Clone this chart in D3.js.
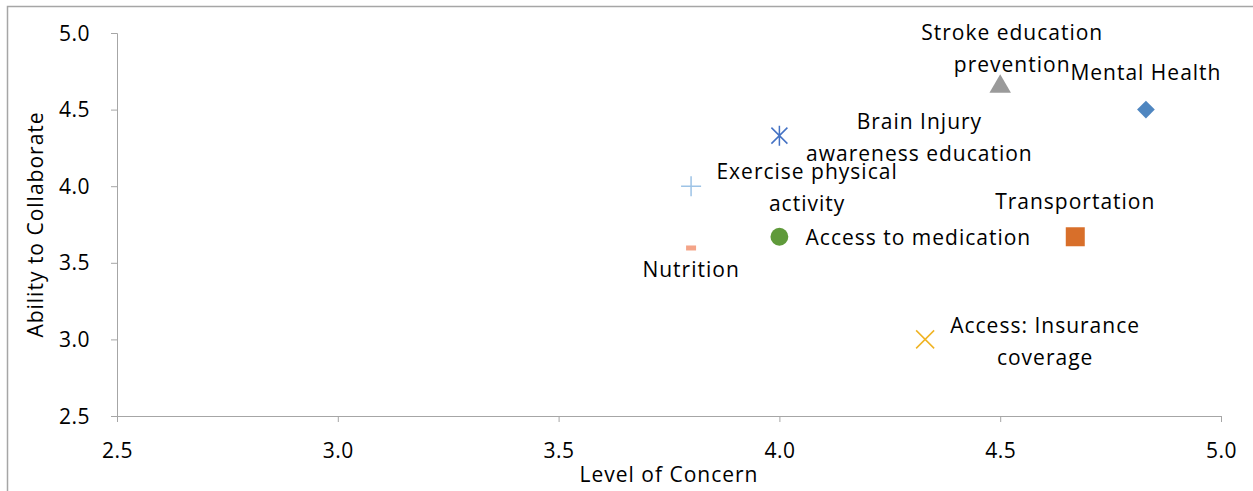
<!DOCTYPE html>
<html>
<head>
<meta charset="utf-8">
<script src="https://cdn.jsdelivr.net/npm/d3@7"></script>
<style>
  body { margin: 0; background: #fff; }
  text { font-family: "Open Sans", sans-serif; fill: #000; letter-spacing: 1px; }
  .axis path, .axis line { stroke: #a6a6a6; }
  .axis text { font-size: 21px; letter-spacing: 0.5px; }
</style>
</head>
<body>
<svg id="chart"></svg>
<script>
// data
const names = ["Mental Health", "Stroke education prevention", "Brain Injury awareness education",
  "Exercise physical activity", "Nutrition", "Access to medication", "Transportation",
  "Access: Insurance coverage"];
const concern = [4.83, 4.5, 4.0, 3.8, 3.8, 4.0, 4.67, 4.33];
const collaborate = [4.5, 4.65, 4.33, 4.0, 3.6, 3.67, 3.67, 3.0];
const labelLines = [["Mental Health"], ["Stroke education", "prevention"], ["Brain Injury", "awareness education"],
  ["Exercise physical", "activity"], ["Nutrition"], ["Access to medication"], ["Transportation"],
  ["Access: Insurance", "coverage"]];
const xTicks = [2.5, 3.0, 3.5, 4.0, 4.5, 5.0];
const yTicks = [2.5, 3.0, 3.5, 4.0, 4.5, 5.0];

// marker look and label placement (pixel offsets from the point)
const markers = ["diamond", "triangle", "asterisk", "plus", "dash", "circle", "square", "cross"];
const colors = ["#4f86c0", "#9a9a9a", "#4472c4", "#9dc3e6", "#f4a488", "#5f9a3a", "#d86f2a", "#f0b323"];
const labelDx = [0, 12, 140, 116, 0, 139, 0, 120];
const labelDy = [-30, -47, -7, -7, 30, 8, -28, -6];

const w = 1253, h = 491;
const svg = d3.select('#chart').attr('width', w).attr('height', h);

const margin = {top: 33, right: 32, bottom: 75, left: 117};

const xScale = d3.scaleLinear().domain([2.5, 5.0]).range([margin.left, w - margin.right]);
const yScale = d3.scaleLinear().domain([2.5, 5.0]).range([h - margin.bottom, margin.top]);

// chart frame (left + top edges visible)
svg.append('path')
  .attr('d', `M7.5,${h} V6.5 H${w}`)
  .attr('fill', 'none')
  .attr('stroke', '#a6a6a6')
  .attr('stroke-width', 1.5);

svg.append('g')
  .attr('class', 'axis')
  .attr('transform', `translate(0, ${yScale(2.5)})`)
  .call(d3.axisBottom(xScale).tickValues(xTicks).tickFormat(d3.format('.1f')).tickSize(6).tickSizeOuter(6))
  .call(g => g.selectAll('text').attr('y', 0).attr('dy', 42));

svg.append('g')
  .attr('class', 'axis')
  .attr('transform', `translate(${xScale(2.5)}, 0)`)
  .call(d3.axisLeft(yScale).tickValues(yTicks).tickFormat(d3.format('.1f')).tickSize(6).tickSizeOuter(6))
  .call(g => g.selectAll('text').attr('x', -27).attr('dy', '0.34em'));

svg.selectAll('.axis text').attr('fill', '#000');

svg.append('text')
  .attr('x', (xScale(2.5) + xScale(5.0)) / 2)
  .attr('y', 482)
  .attr('text-anchor', 'middle')
  .style('font-size', '21px')
  .text('Level of Concern');

svg.append('text')
  .attr('transform', `translate(43, ${(yScale(2.5) + yScale(5.0)) / 2}) rotate(-90)`)
  .attr('text-anchor', 'middle')
  .style('font-size', '21px')
  .text('Ability to Collaborate');

const shapes = {
  diamond: d3.symbol().type(d3.symbolDiamond2).size(200),
  triangle: d3.symbol().type(d3.symbolTriangle).size(200),
  circle: d3.symbol().type(d3.symbolCircle).size(250),
  square: d3.symbol().type(d3.symbolSquare).size(361)
};

const pts = svg.append('g').selectAll('g')
  .data(names)
  .join('g')
  .attr('transform', (d, i) => `translate(${xScale(concern[i])}, ${yScale(collaborate[i])})`);

pts.each(function(d, i) {
  const g = d3.select(this);
  const m = markers[i], c = colors[i];
  if (shapes[m]) {
    g.append('path').attr('d', shapes[m]()).attr('fill', c);
  } else if (m === 'asterisk') {
    g.append('path').attr('d', 'M-8,-8L8,8M-8,8L8,-8M0,-10V10')
      .attr('stroke', c).attr('stroke-width', 1.5).attr('fill', 'none');
  } else if (m === 'plus') {
    g.append('path').attr('d', 'M-10,0H10M0,-10V10')
      .attr('stroke', c).attr('stroke-width', 1.5).attr('fill', 'none');
  } else if (m === 'cross') {
    g.append('path').attr('d', 'M-9,-9L9,9M-9,9L9,-9')
      .attr('stroke', c).attr('stroke-width', 1.5).attr('fill', 'none');
  } else if (m === 'dash') {
    g.append('rect').attr('x', -5).attr('y', -2).attr('width', 10).attr('height', 5).attr('fill', c);
  }

  const t = g.append('text')
    .attr('text-anchor', 'middle')
    .attr('x', labelDx[i])
    .attr('y', labelDy[i])
    .style('font-size', '21px');
  labelLines[i].forEach((line, k) => {
    t.append('tspan').attr('x', labelDx[i]).attr('dy', k === 0 ? 0 : 32).text(line);
  });
});
</script>
</body>
</html>
